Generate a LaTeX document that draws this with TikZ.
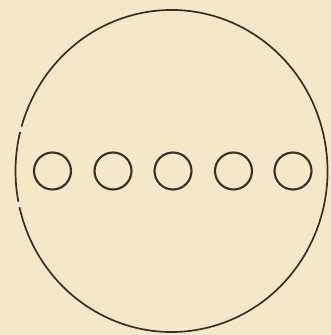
\documentclass[tikz,border=0pt]{standalone}
\definecolor{paper}{HTML}{F4E8C6}
\definecolor{ink}{HTML}{35302A}
\begin{document}
\begin{tikzpicture}[x=1pt,y=1pt,
  hole/.style={circle,draw=ink,line width=2.1pt,minimum size=37pt,inner sep=0pt},
  rim/.style={draw=ink,line width=1.7pt}]
\fill[paper] (0,0) rectangle (331,335);
\useasboundingbox (0,0) rectangle (331,335);
\coordinate (ctr) at (171.5,164);
\draw[rim] (ctr) ++(166:156 and 161) arc[start angle=166,end angle=191,x radius=156,y radius=161];
\draw[rim] (ctr) ++(193:156 and 161) arc[start angle=193,end angle=524,x radius=156,y radius=161];
\foreach \i/\x in {1/52.5,2/113,3/173,4/233.5,5/293}{
  \node[hole] (h\i) at (\x,164) {};
}
\end{tikzpicture}
\end{document}
